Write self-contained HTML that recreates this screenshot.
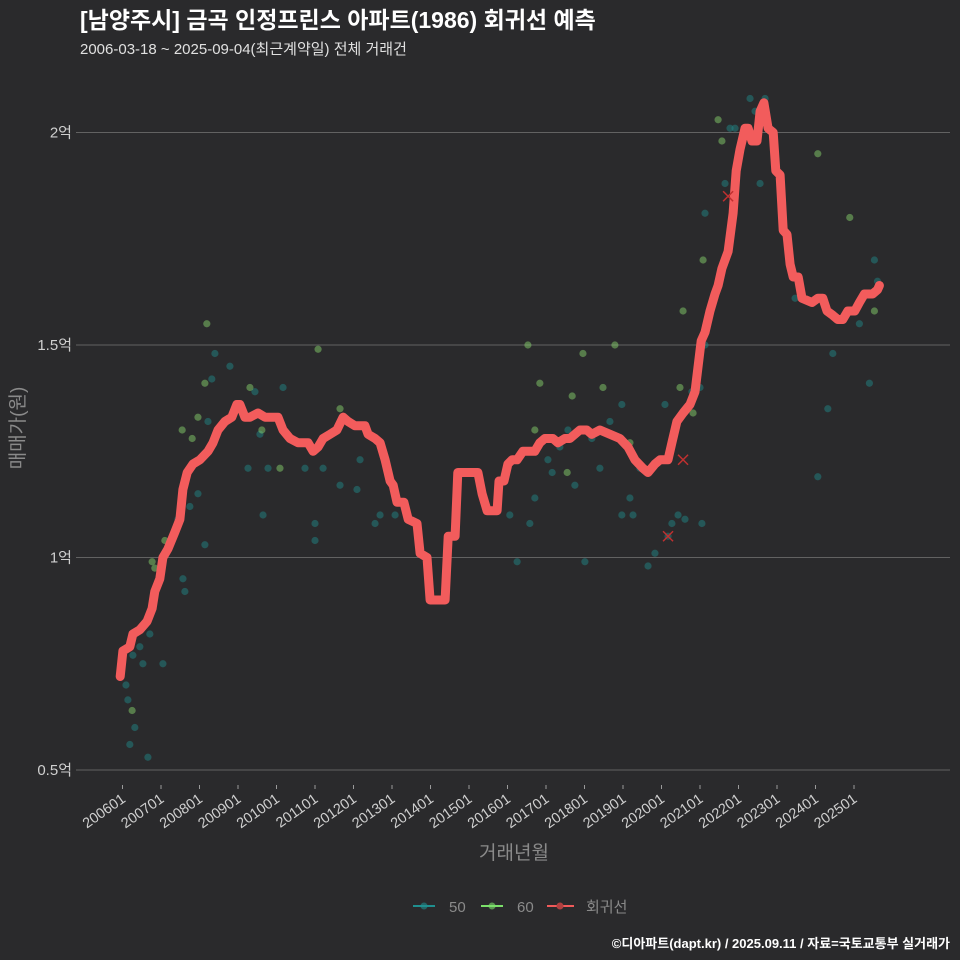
<!DOCTYPE html>
<html><head><meta charset="utf-8"><style>
html,body{margin:0;padding:0;background:#2a2a2c;}
svg{display:block;font-family:"Liberation Sans","Noto Sans CJK KR",sans-serif;}
</style></head><body>
<svg id="chart" width="960" height="960" viewBox="0 0 960 960">
<rect width="960" height="960" fill="#2a2a2c"/>
<text x="80" y="28" fill="#ffffff" font-size="23" font-weight="bold">[남양주시] 금곡 인정프린스 아파트(1986) 회귀선 예측</text>
<text x="80" y="54" fill="#e0e0e0" font-size="15">2006-03-18 ~ 2025-09-04(최근계약일) 전체 거래건</text>
<g id="grid"></g>
<g id="points"></g>
<g id="line"></g>
<g id="xaxis"></g>
<text x="514" y="859" fill="#8a8a8a" font-size="19" text-anchor="middle">거래년월</text>
<text transform="translate(24,428) rotate(-90)" fill="#8a8a8a" font-size="19" text-anchor="middle">매매가(원)</text>
<g>
 <g><line x1="413" y1="906" x2="435" y2="906" stroke="#1f8f8f" stroke-width="2"/><circle cx="424" cy="906" r="3.5" fill="#1f8f8f" opacity="0.6"/><text x="449" y="912" fill="#8a8a8a" font-size="15">50</text></g>
 <g><line x1="481" y1="906" x2="503" y2="906" stroke="#7be06a" stroke-width="2"/><circle cx="492" cy="906" r="3.5" fill="#7be06a" opacity="0.6"/><text x="517" y="912" fill="#8a8a8a" font-size="15">60</text></g>
 <g><line x1="547" y1="906" x2="574" y2="906" stroke="#f05a5a" stroke-width="2"/><circle cx="560" cy="906" r="3.5" fill="#b04040"/><text x="586" y="912" fill="#8a8a8a" font-size="15">회귀선</text></g>
</g>
<text x="950" y="948" fill="#ffffff" font-size="13" font-weight="bold" text-anchor="end">©디아파트(dapt.kr) / 2025.09.11 / 자료=국토교통부 실거래가</text>
</svg>
<script>
const yTicks=[0.5,1,1.5,2];
const yTickLabels=["0.5억","1억","1.5억","2억"];
const xTickYears=[2006,2007,2008,2009,2010,2011,2012,2013,2014,2015,2016,2017,2018,2019,2020,2021,2022,2023,2024,2025];
const xTickLabels=["200601","200701","200801","200901","201001","201101","201201","201301","201401","201501","201601","201701","201801","201901","202001","202101","202201","202301","202401","202501"];
const lineDates=[2005.94,2006.01,2006.19,2006.27,2006.45,2006.64,2006.77,2006.84,2006.97,2007.05,2007.18,2007.36,2007.49,2007.57,2007.68,2007.83,2008.01,2008.22,2008.35,2008.48,2008.66,2008.84,2008.97,2009.05,2009.18,2009.31,2009.52,2009.70,2010.04,2010.17,2010.35,2010.56,2010.82,2010.95,2011.08,2011.21,2011.39,2011.57,2011.73,2011.86,2012.04,2012.30,2012.38,2012.56,2012.69,2012.82,2012.95,2013.03,2013.13,2013.31,2013.42,2013.65,2013.73,2013.91,2013.99,2014.38,2014.46,2014.64,2014.71,2015.23,2015.34,2015.47,2015.73,2015.78,2015.91,2016.01,2016.12,2016.25,2016.40,2016.71,2016.84,2016.97,2017.18,2017.31,2017.49,2017.62,2017.88,2018.06,2018.19,2018.40,2018.66,2018.92,2019.13,2019.31,2019.52,2019.65,2019.83,2019.96,2020.17,2020.27,2020.40,2020.56,2020.74,2020.87,2020.95,2021.03,2021.13,2021.26,2021.39,2021.47,2021.57,2021.73,2021.86,2021.94,2022.04,2022.17,2022.25,2022.35,2022.48,2022.56,2022.66,2022.77,2022.90,2022.97,2023.08,2023.16,2023.26,2023.34,2023.42,2023.55,2023.65,2023.91,2024.06,2024.19,2024.30,2024.45,2024.58,2024.71,2024.84,2025.02,2025.14,2025.27,2025.48,2025.61,2025.66];
const lineValues=[0.72,0.78,0.79,0.82,0.83,0.85,0.88,0.92,0.95,1.0,1.02,1.06,1.09,1.16,1.20,1.22,1.23,1.25,1.27,1.30,1.32,1.33,1.36,1.36,1.33,1.33,1.34,1.33,1.33,1.30,1.28,1.27,1.27,1.25,1.26,1.28,1.29,1.30,1.33,1.32,1.31,1.31,1.29,1.28,1.27,1.23,1.18,1.17,1.13,1.13,1.09,1.08,1.01,1.0,0.9,0.9,1.05,1.05,1.2,1.2,1.15,1.11,1.11,1.18,1.18,1.22,1.23,1.23,1.25,1.25,1.27,1.28,1.28,1.27,1.28,1.28,1.30,1.30,1.29,1.30,1.29,1.28,1.26,1.23,1.21,1.20,1.22,1.23,1.23,1.27,1.32,1.34,1.36,1.39,1.45,1.51,1.53,1.58,1.62,1.64,1.68,1.72,1.81,1.91,1.96,2.01,2.01,1.98,1.98,2.05,2.07,2.01,2.0,1.91,1.90,1.77,1.76,1.69,1.66,1.66,1.61,1.60,1.61,1.61,1.58,1.57,1.56,1.56,1.58,1.58,1.60,1.62,1.62,1.63,1.64];
const p50Dates=[2006.09,2006.14,2006.19,2006.27,2006.32,2006.45,2006.53,2006.66,2006.71,2007.05,2007.23,2007.44,2007.57,2007.62,2007.75,2007.96,2008.14,2008.22,2008.32,2008.40,2008.79,2009.26,2009.44,2009.57,2009.65,2009.78,2010.17,2010.74,2011.0,2011.0,2011.21,2011.65,2012.09,2012.17,2012.56,2012.69,2013.08,2016.06,2016.25,2016.58,2016.71,2017.05,2017.16,2017.36,2017.57,2017.75,2018.01,2018.19,2018.40,2018.66,2018.97,2018.97,2019.18,2019.26,2019.44,2019.65,2019.83,2020.09,2020.17,2020.27,2020.43,2020.61,2020.79,2021.0,2021.05,2021.13,2021.13,2021.65,2021.78,2021.91,2022.30,2022.43,2022.56,2022.69,2023.47,2024.32,2024.45,2024.06,2025.14,2025.40,2025.53,2025.61];
const p50Values=[0.70,0.665,0.56,0.77,0.60,0.79,0.75,0.53,0.82,0.75,1.03,1.09,0.95,0.92,1.12,1.15,1.03,1.32,1.42,1.48,1.45,1.21,1.39,1.29,1.10,1.21,1.40,1.21,1.08,1.04,1.21,1.17,1.16,1.23,1.08,1.10,1.10,1.10,0.99,1.08,1.14,1.23,1.20,1.26,1.30,1.17,0.99,1.28,1.21,1.32,1.10,1.36,1.14,1.10,1.21,0.98,1.01,1.36,1.05,1.08,1.10,1.09,1.39,1.40,1.08,1.50,1.81,1.88,2.01,2.01,2.08,2.05,1.88,2.08,1.61,1.35,1.48,1.19,1.55,1.41,1.70,1.65];
const p60Dates=[2006.25,2006.77,2006.84,2007.10,2007.55,2007.81,2007.96,2008.14,2008.19,2009.31,2009.62,2010.09,2011.08,2011.65,2016.53,2016.84,2016.71,2017.55,2017.68,2017.96,2018.48,2018.79,2019.18,2020.48,2020.56,2020.82,2021.08,2021.47,2021.57,2024.06,2024.89,2025.53];
const p60Values=[0.64,0.99,0.975,1.04,1.30,1.28,1.33,1.41,1.55,1.40,1.30,1.21,1.49,1.35,1.50,1.41,1.30,1.20,1.38,1.48,1.40,1.50,1.27,1.40,1.58,1.34,1.70,2.03,1.98,1.95,1.80,1.58];
const cancelDates=[2020.17,2020.56,2021.73];
const cancelValues=[1.05,1.23,1.85];

const NS="http://www.w3.org/2000/svg";
function xs(d){return 122.5+(d-2006)*38.5;}
function ys(v){return 770-(v-0.5)*425;}
function mk(tag,attrs,parent){const e=document.createElementNS(NS,tag);for(const k in attrs)e.setAttribute(k,attrs[k]);parent.appendChild(e);return e;}

const grid=document.getElementById('grid');
yTicks.forEach((t,i)=>{
  const l=mk('line',{x1:76,x2:950,y1:ys(t),y2:ys(t),stroke:'#626262','stroke-width':1},grid);
  
  
  const tx=mk('text',{x:72,y:ys(t)+5,fill:'#cfcfcf','font-size':15,'text-anchor':'end'},grid);
  tx.textContent=yTickLabels[i];
  
  
});
const xa=document.getElementById('xaxis');
xTickYears.forEach((t,i)=>{
  const x=xs(t);
  const tk=mk('line',{x1:x,x2:x,y1:785,y2:789,stroke:'#9a9a9a','stroke-width':1},xa);
  
  
  const tx=mk('text',{transform:`translate(${x+4},${801}) rotate(-35)`,fill:'#cfcfcf','font-size':14.5,'text-anchor':'end'},xa);
  tx.textContent=xTickLabels[i];
  
  
});
const pts=document.getElementById('points');
p50Dates.forEach((d,i)=>{
  const c=mk('circle',{cx:xs(d),cy:ys(p50Values[i]),r:3.6,fill:'#1f8f8f','fill-opacity':0.45},pts);
  
  
});
p60Dates.forEach((d,i)=>{
  const c=mk('circle',{cx:xs(d),cy:ys(p60Values[i]),r:3.6,fill:'#8ee070','fill-opacity':0.45},pts);
  
  
});
const lg=document.getElementById('line');
const dpath=lineDates.map((d,i)=>(i?'L':'M')+xs(d).toFixed(1)+','+ys(lineValues[i]).toFixed(1)).join(' ');
const path=mk('path',{d:dpath,fill:'none',stroke:'#f25c5c','stroke-width':9,'stroke-linejoin':'round','stroke-linecap':'round'},lg);


cancelDates.forEach((d,i)=>{
  const x=xs(d),y=ys(cancelValues[i]);
  const g=mk('path',{d:`M${x-5},${y-5}L${x+5},${y+5}M${x-5},${y+5}L${x+5},${y-5}`,stroke:'#c03030','stroke-width':1.5,fill:'none'},lg);
  
  
});
</script>
</body></html>
